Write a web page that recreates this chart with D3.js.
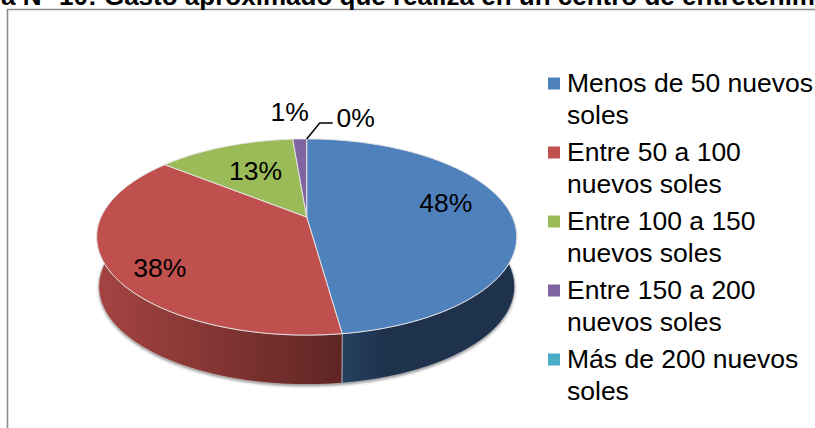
<!DOCTYPE html>
<html><head><meta charset="utf-8">
<script src="https://cdn.jsdelivr.net/npm/d3@7"></script>
<style>html,body{margin:0;padding:0;background:#fff;overflow:hidden}svg{display:block}text{font-family:"Liberation Sans",Arial,sans-serif;fill:#000}</style>
</head><body><svg id="c" width="815" height="428"></svg>
<script>
const titleText = "a N° 10: Gasto aproximado que realiza en un centro de entretenim";
const categories = ["Menos de 50 nuevos soles","Entre 50 a 100 nuevos soles","Entre 100 a 150 nuevos soles","Entre 150 a 200 nuevos soles","Más de 200 nuevos soles"];
const legendLines = [["Menos de 50 nuevos","soles"],["Entre 50 a 100","nuevos soles"],["Entre 100 a 150","nuevos soles"],["Entre 150 a 200","nuevos soles"],["Más de 200 nuevos","soles"]];
const values = [47.8, 38.0, 12.9, 1.3, 0.0];
const colors = ["#4F81BD","#C0504D","#9BBB59","#8064A2","#4BACC6"];
const sideDark = [["#25405f","#1f324d"],["#a54442","#5e2523"],["#7d964a","#5a6c36"],["#664f82","#4a3a60"],["#3a8a9e","#2a6878"]];

const svg = d3.select("#c");
const apex = {x:306.7,y:217}, A=205.6, B=94, e=0.204, depth=49.5, bottomScale=0.99;
const project = (ang,r=1)=>{const u=Math.sin(ang)*r,v=-Math.cos(ang)*r,w=1-e*v;return [apex.x+A*u/w,apex.y+B*v/w];};
const lower = ([x,y],extra=0)=>[apex.x+(x-apex.x)*bottomScale,y+depth+extra];
const pie = d3.pie().sort(null).value(d=>d)(values);
const line = d3.line();
const arcPts = (a0,a1,n=120)=>d3.range(n+1).map(i=>project(a0+(a1-a0)*i/n));
const defs = svg.append("defs");
defs.append("filter").attr("id","sh").attr("x","-10%").attr("y","-10%").attr("width","120%").attr("height","130%")
  .append("feGaussianBlur").attr("stdDeviation",1.8);

// frame
svg.append("path").attr("d",line([[7.5,428],[7.5,9.5],[815,9.5]])).attr("fill","none").attr("stroke","#8c8c8c").attr("stroke-width",1.6);
// title
svg.append("text").attr("x",1).attr("y",4.5).attr("font-size",26).attr("font-weight","bold").attr("textLength",814).attr("lengthAdjust","spacingAndGlyphs").text(titleText);

// shadow under the side wall
const outline = arcPts(Math.PI/2-0.12,3*Math.PI/2+0.12).map(p=>lower(p,1.5));
svg.append("path").attr("d",line(outline)+"Z").attr("fill","#666").attr("opacity",.8).attr("filter","url(#sh)");

// side walls (visible near half only)
const clamp=(a)=>[Math.max(a[0],Math.PI/2-0.1),Math.min(a[1],3*Math.PI/2+0.1)];
pie.forEach((s,i)=>{
  const [a0,a1]=clamp([s.startAngle,s.endAngle]);
  if(a1<=a0) return;
  const top=arcPts(a0,a1);
  const bottom=top.map(p=>lower(p)).reverse();
  const xs=top.map(p=>p[0]);
  const id="g"+i;
  const g=defs.append("linearGradient").attr("id",id).attr("gradientUnits","userSpaceOnUse")
    .attr("x1",d3.min(xs)).attr("x2",d3.max(xs)).attr("y1",0).attr("y2",0);
  if(i===0){g.append("stop").attr("offset",0).attr("stop-color",sideDark[0][0]);g.append("stop").attr("offset",.25).attr("stop-color",sideDark[0][1]);g.append("stop").attr("offset",1).attr("stop-color",sideDark[0][1]);}
  else{g.append("stop").attr("offset",0).attr("stop-color",sideDark[i][0]);g.append("stop").attr("offset",1).attr("stop-color",sideDark[i][1]);}
  svg.append("path").attr("d",line(top.concat(bottom))+"Z").attr("fill",`url(#${id})`).attr("stroke","#d9d9d9").attr("stroke-width",.7).attr("stroke-opacity",.8);
});

// top faces
pie.forEach((s,i)=>{
  if(s.endAngle-s.startAngle<1e-6) return;
  const pts=[[apex.x,apex.y],...arcPts(s.startAngle,s.endAngle)];
  svg.append("path").attr("d",line(pts)+"Z").attr("fill",colors[i]).attr("stroke","#e4e4e4").attr("stroke-width",1).attr("stroke-linejoin","round");
});

// data labels
const labelLayout=[{r:.68,dx:1,dy:-10},{r:.72,dx:-8,dy:15},{r:.6,dx:1,dy:-1},{r:1,dx:-10,dy:-27},{r:1,dx:49,dy:-21}];
// leader line of the 0% slice
const zeroAnchor=project(pie[4].startAngle);
svg.append("path").attr("d",line([zeroAnchor,[zeroAnchor[0]+13,zeroAnchor[1]-16],[zeroAnchor[0]+26,zeroAnchor[1]-16]])).attr("fill","none").attr("stroke","#000").attr("stroke-width",1.5);
pie.forEach((s,i)=>{
  const mid=(s.startAngle+s.endAngle)/2;
  const [x,y]=project(mid,labelLayout[i].r);
  svg.append("text").attr("class","lbl").attr("text-anchor","middle").attr("dominant-baseline","central")
    .attr("font-size",26.5).attr("x",x+labelLayout[i].dx).attr("y",y+labelLayout[i].dy).text(Math.round(s.value)+"%");
});

// legend
const legendY=d3.scaleLinear().domain([0,1]).range([92,161]);
const legend=svg.append("g");
legendLines.forEach((lines,i)=>{
  const y=legendY(i);
  legend.append("rect").attr("x",548).attr("y",y-14.5).attr("width",12).attr("height",12).attr("fill",colors[i]);
  lines.forEach((t,j)=>legend.append("text").attr("x",567).attr("y",y+j*31.5).attr("font-size",26.5).text(t));
});
</script></body></html>
